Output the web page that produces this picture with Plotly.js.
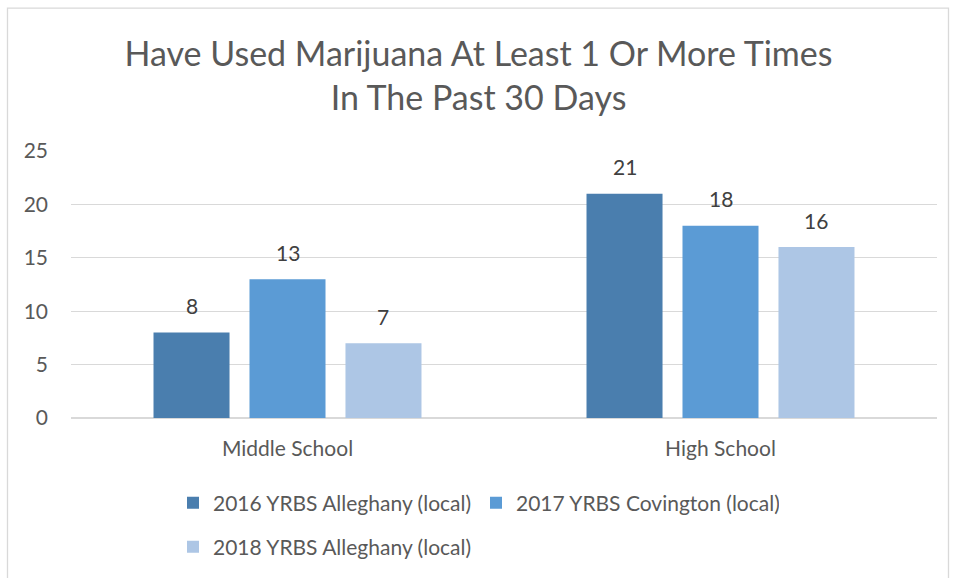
<!DOCTYPE html>
<html><head><meta charset="utf-8">
<script src="https://cdn.plot.ly/plotly-3.0.1.min.js"></script>
<style>body{margin:0;background:#fff}#c{width:957px;height:578px}</style>
</head><body><div id="c"></div>
<script>
const categories = ["Middle School", "High School"];
const seriesNames = ["2016 YRBS Alleghany (local)", "2017 YRBS Covington (local)", "2018 YRBS Alleghany (local)"];
const v2016 = [8, 21];
const v2017 = [13, 18];
const v2018 = [7, 16];
const seriesValues = [v2016, v2017, v2018];
const colors = ["#4a7eae", "#5b9bd5", "#adc6e5"];
const yTicks = [0, 5, 10, 15, 20, 25];

const W = 957, H = 578;
const margin = {l: 71, r: 20, t: 151, b: 159};
const bargap = 0.335, bargroupgap = 0.208;
const plotW = W - margin.l - margin.r, plotH = H - margin.t - margin.b;
const slot = plotW / categories.length * (1 - bargap) / seriesValues.length;

const font = "Lato, 'Open Sans', sans-serif";
const legendRow = [0, 0, 1];
const traces = seriesValues.map((vals, i) => ({
  type: "bar", x: categories, y: vals, name: seriesNames[i],
  marker: {color: colors[i]}, hoverinfo: "none",
  legend: legendRow[i] === 0 ? "legend" : "legend2"
}));

const annotations = [];
seriesValues.forEach((vals, i) => {
  vals.forEach((v, j) => {
    annotations.push({
      x: categories[j], y: v, xref: "x", yref: "y", text: String(v),
      showarrow: false, xshift: (i - (seriesValues.length - 1) / 2) * slot,
      yshift: 27, font: {family: font, size: 21, color: "#404040"}
    });
  });
});

const px2x = p => (p - margin.l) / plotW;
const px2y = p => (H - margin.b - p) / plotH;

const legendBase = {orientation: "h", xanchor: "left", yanchor: "middle",
  font: {family: font, size: 21, color: "#595959"}, entrywidth: 258, entrywidthmode: "pixels",
  traceorder: "normal", itemclick: false, itemwidth: 30, bgcolor: "rgba(0,0,0,0)"};

const layout = {
  width: W, height: H, margin: margin,
  paper_bgcolor: "#fff", plot_bgcolor: "#fff",
  barmode: "group", bargap: bargap, bargroupgap: bargroupgap,
  showlegend: true,
  title: {text: "Have Used Marijuana At Least 1 Or More Times<br>In The Past 30 Days",
          font: {family: font, size: 34, color: "#595959"}, x: 0.5, xanchor: "center",
          y: 1 - 66 / H, yanchor: "middle"},
  xaxis: {type: "category", showgrid: false, zeroline: false, showline: false,
          ticks: "", tickfont: {family: font, size: 21, color: "#595959"}, ticklabelstandoff: 16},
  yaxis: {range: [0, 25], tickvals: yTicks, ticktext: yTicks.map(String), showgrid: true,
          gridcolor: "#d9d9d9", gridwidth: 1.3, zeroline: true, zerolinecolor: "#d9d9d9", zerolinewidth: 1.3,
          showline: false, ticks: "", tickfont: {family: font, size: 21, color: "#595959"}, ticklabelstandoff: 22},
  legend: Object.assign({}, legendBase, {x: px2x(173), y: px2y(503)}),
  legend2: Object.assign({}, legendBase, {x: px2x(173), y: px2y(547)}),
  annotations: annotations,
  shapes: [{type: "rect", xref: "paper", yref: "paper", x0: px2x(7.5), x1: px2x(948.5), y0: px2y(7.5), y1: px2y(600),
            line: {color: "#d9d9d9", width: 1.3}, fillcolor: "rgba(0,0,0,0)", layer: "below"}]
};

Plotly.newPlot("c", traces, layout, {staticPlot: true, displayModeBar: false});
</script></body></html>
